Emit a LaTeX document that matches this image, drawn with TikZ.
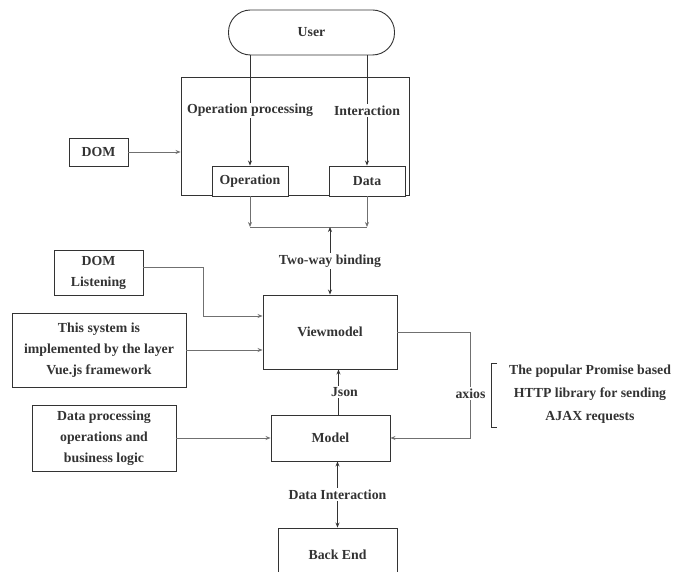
\documentclass[tikz,border=0pt]{standalone}
\usepackage{fontspec}
\setmainfont{Liberation Serif}
\usetikzlibrary{arrows.meta, positioning, calc}
\definecolor{ArchInk}{HTML}{333333}
\definecolor{ArchLine}{HTML}{707070}

\begin{document}
\begin{tikzpicture}[x=1pt, y=-1pt,
    box/.style={draw=ArchInk, line width=0.9pt, fill=white, inner sep=0pt, align=center,
        font=\bfseries\fontsize{13.8}{21}\selectfont, text=ArchInk},
    lbl/.style={fill=white, inner sep=1.5pt, font=\bfseries\fontsize{13.8}{16}\selectfont, text=ArchInk},
    conn/.style={draw=ArchLine, line width=0.8pt, -{Stealth[length=5pt, width=4pt]}},
    link/.style={draw=ArchInk, line width=0.8pt, -{Stealth[length=5pt, width=4pt]}}]

    % Frame of the picture
    \useasboundingbox (0,0) rectangle (673,572);
    \clip (0,0) rectangle (673,572);

    % User and view layer
    \node[box, rounded corners=22pt, minimum width=166, minimum height=45] (user) at (311.5,32.5) {User};
    \node[box, minimum width=228, minimum height=118] (frame) at (295,136) {};
    \node[box, minimum width=76, minimum height=30] (op) at (250,181) {Operation};
    \node[box, minimum width=76, minimum height=30] (data) at (367,181) {Data};
    \node[box, minimum width=59, minimum height=28] (dom) at (98.5,152) {DOM};

    \draw[link] (user.south -| op.north) -- node[lbl] {Operation processing} (op.north);
    \draw[link] (user.south -| data.north) -- node[lbl] {Interaction} (data.north);
    \draw[conn] (dom.east) -- (dom.east -| frame.west);

    % Binding bus
    \coordinate (busL) at (op.south |- 0,227);
    \coordinate (busR) at (data.south |- 0,227);
    \draw[conn] (op.south) -- (busL);
    \draw[conn] (data.south) -- (busR);
    \draw[ArchLine, line width=0.8pt] (busL) -- (busR);

    % Viewmodel and its inputs
    \node[box, minimum width=134, minimum height=74] (vm) at (330,332) {Viewmodel};
    \node[box, minimum width=89, minimum height=45] (listen) at (98.5,272.5) {DOM\\Listening};
    \node[box, minimum width=174, minimum height=74] (vue) at (99,350)
        {This system is\\implemented by the layer\\Vue.js framework};

    \draw[link, {Stealth[length=5pt, width=4pt]}-{Stealth[length=5pt, width=4pt]}]
        (vm.north |- busL) -- node[lbl] {Two-way binding} (vm.north);
    \draw[conn] ([yshift=5pt]listen.east) -- ++(60,0) |- ([yshift=16pt]vm.west);
    \draw[conn] (vue.east) -- (vue.east -| vm.west);

    % Model
    \node[box, minimum width=119, minimum height=46] (model) at (330.5,438) {Model};
    \node[box, minimum width=144, minimum height=66] (logic) at (104,438)
        {Data processing\\operations and\\business logic};

    \draw[link] ([xshift=8pt]model.north) -- node[lbl, xshift=6pt] {Json} ([xshift=8pt]model.north |- vm.south);
    \draw[conn] (logic.east) -- (logic.east -| model.west);
    \draw[conn] (vm.east) -- ++(73,0) -- node[lbl, pos=0.58] {axios} ++(0,106) -- (model.east);

    % Note on axios
    \node[font=\bfseries\fontsize{13.8}{23}\selectfont, text=ArchInk, align=center] (note) at (590,394)
        {The popular Promise based\\HTTP library for sending\\AJAX requests};
    \draw[ArchInk, line width=0.7pt] (497,363) -- (491,363) -- (491,427) -- (497,427);

    % Back end
    \node[box, minimum width=119, minimum height=54] (back) at (337.5,555) {Back End};
    \draw[link, {Stealth[length=5pt, width=4pt]}-{Stealth[length=5pt, width=4pt]}]
        (model.south -| back.north) -- node[lbl] {Data Interaction} (back.north);
\end{tikzpicture}
\end{document}
